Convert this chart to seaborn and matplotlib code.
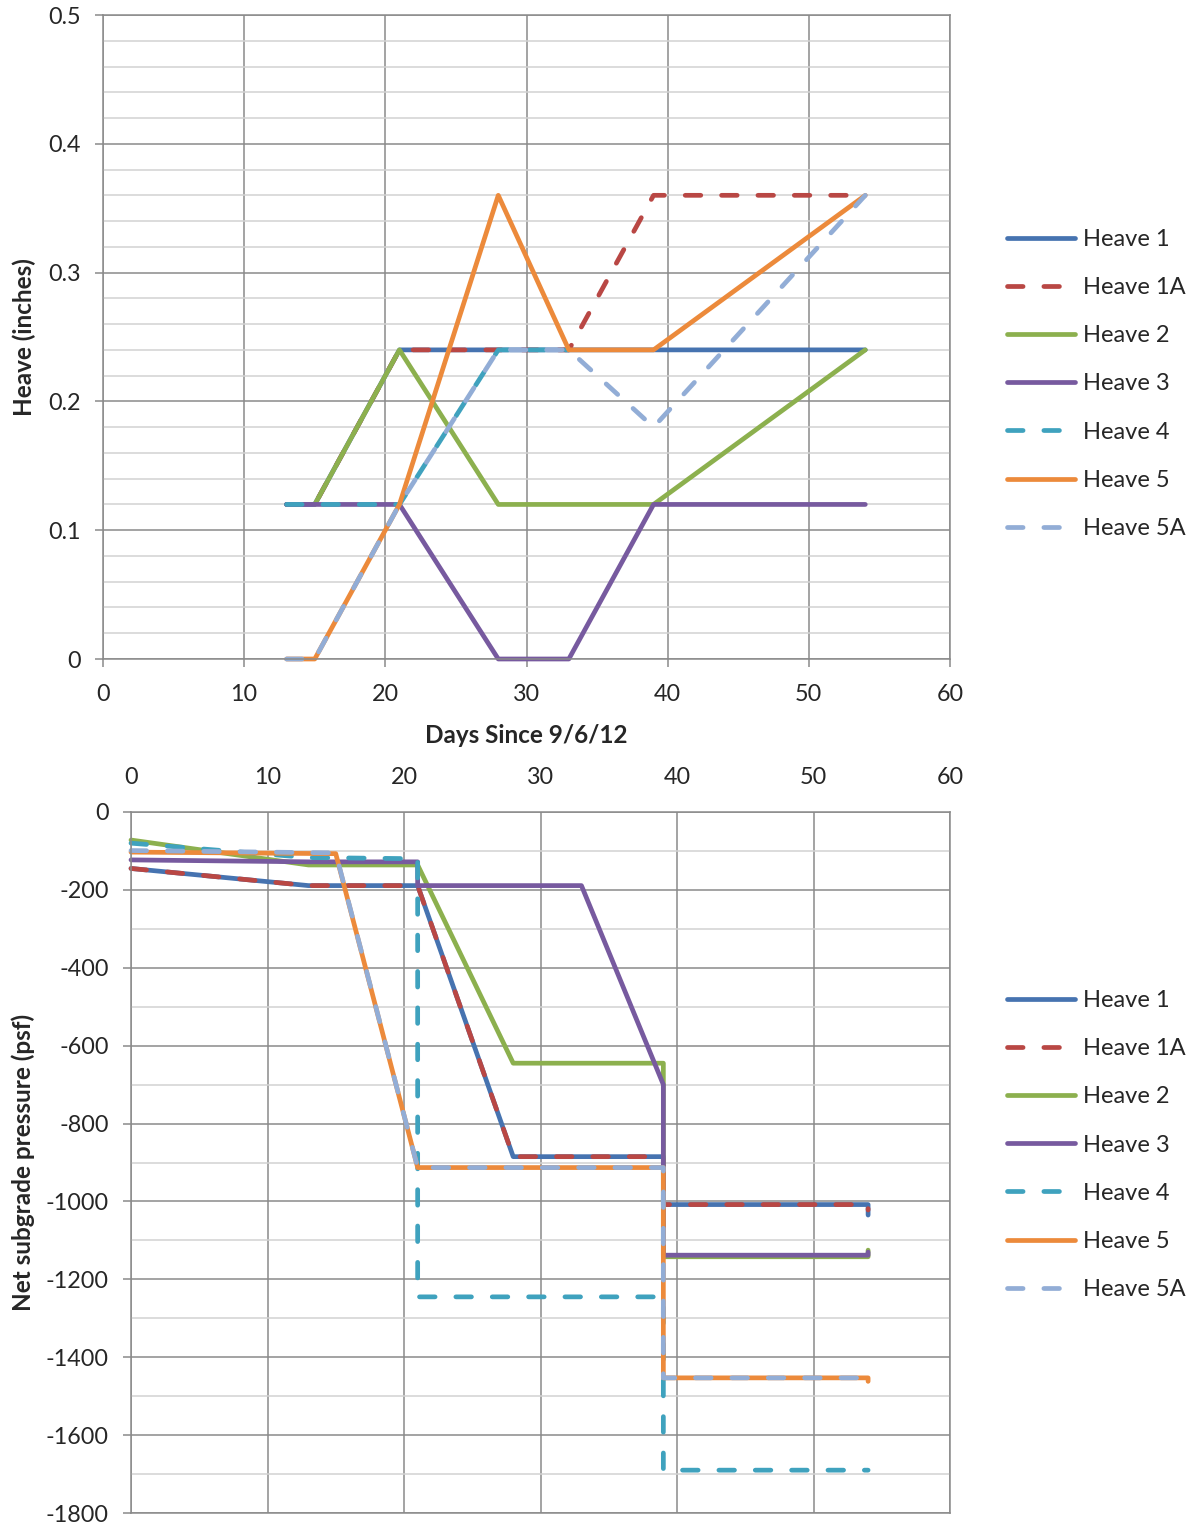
import matplotlib
matplotlib.use("Agg")
import matplotlib.pyplot as plt
import seaborn as sns
from matplotlib.ticker import MultipleLocator, FuncFormatter

# ---------------- data ----------------
series_names = ["Heave 1", "Heave 1A", "Heave 2", "Heave 3", "Heave 4", "Heave 5", "Heave 5A"]
series_colors = ["#4673B0", "#B94744", "#8CB04E", "#775A9F", "#3FA2BE", "#EC8A3B", "#92ADD6"]
series_dashed = [False, True, False, False, True, False, True]

# Top chart: heave (inches) vs days since 9/6/12
top_days_h1 = [13, 15, 21, 28, 33, 39, 54]
top_heave_h1 = [0.12, 0.12, 0.24, 0.24, 0.24, 0.24, 0.24]
top_days_h1a = [13, 15, 21, 28, 33, 39, 54]
top_heave_h1a = [0.12, 0.12, 0.24, 0.24, 0.24, 0.36, 0.36]
top_days_h2 = [15, 21, 28, 33, 39, 54]
top_heave_h2 = [0.12, 0.24, 0.12, 0.12, 0.12, 0.24]
top_days_h3 = [13, 15, 21, 28, 33, 39, 54]
top_heave_h3 = [0.12, 0.12, 0.12, 0.0, 0.0, 0.12, 0.12]
top_days_h4 = [13, 15, 21, 28, 33]
top_heave_h4 = [0.12, 0.12, 0.12, 0.24, 0.24]
top_days_h5 = [13, 15, 21, 28, 33, 39, 54]
top_heave_h5 = [0.0, 0.0, 0.12, 0.36, 0.24, 0.24, 0.36]
top_days_h5a = [13, 15, 21, 28, 33, 39, 54]
top_heave_h5a = [0.0, 0.0, 0.12, 0.24, 0.24, 0.18, 0.36]

# Bottom chart: net subgrade pressure (psf)
bot_days_h1 = [0, 13, 21, 28, 39, 39, 54, 54]
bot_psf_h1 = [-145, -189, -189, -885, -885, -1008, -1008, -1035]
bot_days_h1a = [0, 13, 21, 28, 39, 39, 54, 54]
bot_psf_h1a = [-145, -189, -189, -885, -885, -1008, -1008, -1022]
bot_days_h2 = [0, 13, 21, 28, 39, 39, 54, 54]
bot_psf_h2 = [-72, -136, -136, -645, -645, -1142, -1142, -1125]
bot_days_h3 = [0, 13, 21, 21, 33, 39, 39, 54, 54]
bot_psf_h3 = [-123, -128, -128, -189, -189, -700, -1138, -1138, -1130]
bot_days_h4 = [0, 13, 21, 21, 39, 39, 54]
bot_psf_h4 = [-80, -117, -120, -1245, -1245, -1690, -1690]
bot_days_h5 = [0, 15, 21, 39, 39, 54, 54]
bot_psf_h5 = [-103, -107, -913, -913, -1453, -1453, -1462]
bot_days_h5a = [0, 15, 21, 39, 39, 54]
bot_psf_h5a = [-99, -105, -913, -913, -1453, -1453]

top_x = [top_days_h1, top_days_h1a, top_days_h2, top_days_h3, top_days_h4, top_days_h5, top_days_h5a]
top_y = [top_heave_h1, top_heave_h1a, top_heave_h2, top_heave_h3, top_heave_h4, top_heave_h5, top_heave_h5a]
bot_x = [bot_days_h1, bot_days_h1a, bot_days_h2, bot_days_h3, bot_days_h4, bot_days_h5, bot_days_h5a]
bot_y = [bot_psf_h1, bot_psf_h1a, bot_psf_h2, bot_psf_h3, bot_psf_h4, bot_psf_h5, bot_psf_h5a]

# ---------------- style ----------------
sns.set_theme(style="white")
plt.rcParams["font.family"] = ["Lato", "DejaVu Sans"]
plt.rcParams["axes.unicode_minus"] = False

TICK_FS = 16.8
LABEL_FS = 17.5
LEG_FS = 17
LW = 3.4
DASH = (0, (3.3, 4.4))
MAJOR_GRID = "#8A8A8A"
MINOR_GRID = "#D2D2D2"
TEXT_C = "#262626"

W, H = 1195, 1527
fig = plt.figure(figsize=(W / 100, H / 100), dpi=100)
ax1 = fig.add_axes([103 / W, 1 - 659 / H, (950 - 103) / W, (659 - 15) / H])
ax2 = fig.add_axes([131 / W, 1 - 1513 / H, (950 - 131) / W, (1513 - 812) / H])


def draw_series(ax, xs_list, ys_list):
    for xs, ys, name, c, d in zip(xs_list, ys_list, series_names, series_colors, series_dashed):
        kw = dict(linestyle=DASH, dash_capstyle="round") if d else dict(solid_capstyle="round", solid_joinstyle="round")
        sns.lineplot(x=xs, y=ys, ax=ax, sort=False, estimator=None, color=c, lw=LW,
                     label=name, clip_on=False, **kw)


draw_series(ax1, top_x, top_y)
draw_series(ax2, bot_x, bot_y)

# ---- top axes ----
ax1.set_xlim(0, 60)
ax1.set_ylim(0, 0.5)
ax1.xaxis.set_major_locator(MultipleLocator(10))
ax1.yaxis.set_major_locator(MultipleLocator(0.1))
ax1.yaxis.set_minor_locator(MultipleLocator(0.02))
ax1.yaxis.set_major_formatter(FuncFormatter(lambda v, p: "0" if abs(v) < 1e-9 else f"{v:.1f}"))
ax1.set_xlabel("Days Since 9/6/12", fontsize=LABEL_FS, fontweight="bold", color=TEXT_C, labelpad=14)
ax1.set_ylabel("Heave (inches)", fontsize=LABEL_FS, fontweight="bold", color=TEXT_C, labelpad=9)

# ---- bottom axes ----
ax2.set_xlim(0, 60)
ax2.set_ylim(-1800, 0)
ax2.xaxis.set_major_locator(MultipleLocator(10))
ax2.yaxis.set_major_locator(MultipleLocator(200))
ax2.yaxis.set_minor_locator(MultipleLocator(100))
ax2.yaxis.set_major_formatter(FuncFormatter(lambda v, p: f"{int(round(v))}"))
ax2.xaxis.tick_top()
ax2.set_xlabel("")
ax2.set_ylabel("Net subgrade pressure (psf)", fontsize=LABEL_FS, fontweight="bold", color=TEXT_C, labelpad=8)

for ax in (ax1, ax2):
    ax.set_axisbelow(True)
    ax.grid(which="major", axis="both", color=MAJOR_GRID, lw=1.1)
    ax.grid(which="minor", axis="y", color=MINOR_GRID, lw=1.1)
    for s in ax.spines.values():
        s.set_color(MAJOR_GRID)
        s.set_linewidth(1.1)
    ax.tick_params(which="major", labelsize=TICK_FS, labelcolor=TEXT_C, color=MAJOR_GRID, width=1.1)
    ax.tick_params(which="minor", length=0)
    ax.tick_params(axis="y", which="major", left=True, length=6, pad=10)

ax1.tick_params(axis="x", which="major", bottom=True, length=6, pad=12)
ax2.tick_params(axis="x", which="major", top=False, bottom=False, length=0, pad=17, labeltop=True, labelbottom=False)

# ---- legends ----
for ax, yc in ((ax1, 1 - 384 / H), (ax2, 1 - 1145 / H)):
    leg = ax.legend(loc="center left", bbox_to_anchor=(1007 / W, yc), bbox_transform=fig.transFigure,
                    frameon=False, fontsize=LEG_FS, handlelength=2.9, handletextpad=0.3,
                    labelspacing=1.15, borderpad=0, borderaxespad=0)
    for t in leg.get_texts():
        t.set_color(TEXT_C)

fig.savefig("out.png", dpi=100)
